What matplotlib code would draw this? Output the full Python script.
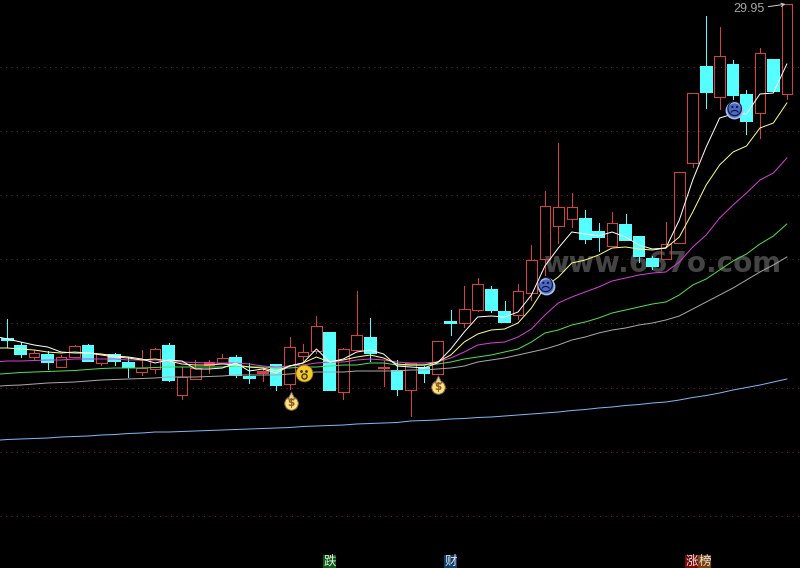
import matplotlib
matplotlib.use("Agg")
import matplotlib.pyplot as plt

plt.rcParams['font.family'] = ['Noto Sans CJK SC', 'DejaVu Sans']

top =   [339,346,353,355,357,346,346,354,355,363,368,349,346,377,368,362,358,358,376.5,371,365,347,352,326,333,349,335,338,367,371,363,368,341,321.5,309,284,290,312,291,260,206,207,207,219,232,223,225,237,259,244,172,93,67,56,65,95,53,60,4]
bot =   [340,354,357,362,367,357,361,363,361,367,372,369,380,395,379,365,363,375,377.5,373,385,384,356,351,390,392,350,353,368,389,390,373,374,322.5,323,310,310,322,315,293,259,226,219,239,237,246,240,256,266,259,243,163,92,97,95,121,113,91,94]
high =  [319,342,350,351,355,345,344,354,353,357,350,348,343,367,360,360,354,355,363,367,365,337,344,316,333,348,291,318,361,360,363,366,341,310,286,278,286,301,284,245,191,143,193,210,223,212,214,236,256,222,172,93,16,27,60,90,48,59,4]
low =   [347,357,359,369,367,357,361,365,365,377,375,373,381,399,379,373,363,377,383,381,390,389,362,353,390,399,350,361,386,395,416,382,374,335,327,311,312,322,319,300,275,243,227,243,251,246,240,262,269,259,243,167,108,109,99,134,138,91,99]
is_up = [0,0,1,0,1,1,0,1,0,0,1,1,0,1,1,1,1,0,0,1,0,1,1,1,0,1,1,0,1,0,1,0,1,0,1,1,0,0,1,1,1,1,1,0,0,1,0,0,0,1,1,1,0,1,0,0,1,0,1]

# Average lines; the first value lies one session left of the visible window
ma_white =  [336,339,342,345,347,352,353,353,354,356,357,359,363,360,361,369,369,368,363,371,369,373,366,363,349,362,359,352,350,354,366,367,368,363,349,332,317,316,317,312,295,266,248,232,234,236,232,237,245,249,248,220,180,147,118,114,114,94,93,64]
ma_yellow = [348,348,349,350,352,353,352,353,355,357,358,360,359,361,364,365,365,364,365,367,368,371,366,363,357,362,360,357,355,358,364,365,365,362,355,342,334,330,329,323,308,287,277,263,260,255,248,247,249,250,248,237,212,185,165,152,146,128,123,103]
ma_magenta =[362,361,361,360.5,360,360,359,359,359,359,360,360,360,361,362,362.5,363,363,363,364,366,367,366,365,363,362,362,360,359,360,362,363,363,362,358,352,345,343,342,337,329,315,303,297,292,287,281,278,275,273,272,262,247,235,218,205,193,180,173,158]
ma_green =  [374.5,373.5,372.5,372,371.5,371,370.5,369.5,368.5,368,368,368,367.5,367,367,367,367,367,366,367,367,368,368,367,367,366,365,365,363,363,365,365,365,364,362,359,357,355,352,349,342,333,330,325,322,318,313,310,307,304,302,295,285,279,270,261,254,244,236,224]
ma_grey =   [386.5,385.5,385,384,383,382.5,382,381,380,379.5,379,378.5,378,377,377,377,376.5,376,375,375,375,375,374,373,372,372,372,371,371,371,371,370,370,369,368,366,362,360,358,355,352,349,345,340,337,333,330,328,325,323,320,316,309,302,295,288,280,272,265,257]
ma_blue =   [440.5,439.5,439,438.5,438,437,436.5,436,435,434.5,433.5,433,432,432,431.5,431,430.5,430,429.5,429,428.5,428,427.5,426.5,426,425.5,425,424,423.5,423,422.5,421,420.5,420,419,418.5,417.5,417,416,415,414,413,412,410.5,409.5,408,407,405.5,404.5,403,402,400,397.5,395.5,393,390,387.5,385,382,379]

bag_idx, bag_val = [21.1, 32.05], [400.5, 384.5]
smile_idx, smile_val = [22.05], [373]
sad_idx, sad_val = [40.05, 54.1], [286, 110]

grid_levels = [67, 131, 195, 259, 323, 388, 452, 516]
last_label = "29.95"
wm_text = "www.667o.com"

RED, CYAN = "#d64040", "#55ffff"
n = len(top)
xs = list(range(n))
xs_ma = list(range(-1, n))

fig = plt.figure(figsize=(8, 5.68), dpi=100, facecolor="black")
ax = fig.add_axes([0, 0, 1, 1], facecolor="black")
step = 13.44
ax.set_xlim(-7.3 / step, (800 - 7.3) / step)
ax.set_ylim(568, 0)
ax.axis("off")

ax.hlines(grid_levels, *ax.get_xlim(), colors="#8c2020", linewidth=0.72,
          linestyles=(0, (1, 4.5)), zorder=1)

ax.text(48.75, 264, wm_text, color="#444444", fontsize=20, fontweight="bold",
        family="DejaVu Sans", ha="center", va="center", zorder=1.5)

for i in xs:
    h = bot[i] - top[i]
    if is_up[i]:
        ax.vlines(i, high[i], top[i], colors=RED, linewidth=0.72, zorder=2, antialiased=False)
        ax.vlines(i, bot[i], low[i], colors=RED, linewidth=0.72, zorder=2, antialiased=False)
        face = RED if h <= 3 else "none"
        ax.bar(i, h, bottom=top[i], width=0.78, facecolor=face, edgecolor=RED,
               linewidth=0.72, zorder=3, antialiased=False)
    else:
        ax.vlines(i, high[i], low[i], colors=CYAN, linewidth=0.72, zorder=2, antialiased=False)
        ax.bar(i, h, bottom=top[i], width=0.8, facecolor=CYAN, edgecolor=CYAN,
               linewidth=0.2, zorder=3, antialiased=False)

ax.plot(xs_ma, ma_grey, color="#a8a8a8", lw=0.72, zorder=5)
ax.plot(xs_ma, ma_green, color="#50e050", lw=0.72, zorder=5)
ax.plot(xs_ma, ma_magenta, color="#d840d8", lw=0.72, zorder=5)
ax.plot(xs_ma, ma_yellow, color="#ffff80", lw=0.72, zorder=6)
ax.plot(xs_ma, ma_white, color="#ffffff", lw=0.72, zorder=7)
ax.plot(xs_ma, ma_blue, color="#80b8f0", lw=0.72, zorder=5)

# Money bags
ax.scatter(bag_idx, [v + 2 for v in bag_val], s=95, c="#f8e088", edgecolors="#8a6420",
           linewidths=0.7, zorder=8)
ax.scatter(bag_idx, [v - 5.5 for v in bag_val], s=26, marker="^", c="#f0d070",
           edgecolors="#6a5a70", linewidths=0.6, zorder=8)
for i, v in zip(bag_idx, bag_val):
    ax.text(i, v + 2, "$", color="#8a5a10", fontsize=7.5, fontweight="bold",
            family="DejaVu Sans", ha="center", va="center", zorder=9)

# Surprised face
ax.scatter(smile_idx, smile_val, s=150, c="#f0cc28", edgecolors="#806000", linewidths=0.5, zorder=8)
for dx in (-0.2, 0.2):
    ax.scatter([i + dx for i in smile_idx], [v - 2.5 for v in smile_val], s=4, c="#402800",
               linewidths=0, zorder=9)
ax.scatter(smile_idx, [v + 2.5 for v in smile_val], s=14, facecolors="#e8b820", edgecolors="#402800",
           linewidths=0.9, zorder=9)

# Sad faces
ax.scatter(sad_idx, sad_val, s=165, c="#a8c0f0", linewidths=0, zorder=8)
ax.scatter(sad_idx, sad_val, s=105, c="#4c68c0", linewidths=0, zorder=8)
for i, v in zip(sad_idx, sad_val):
    ax.text(i, v, "☹", color="#0c1438", fontsize=12, fontweight="bold", family="DejaVu Sans",
            ha="center", va="center", zorder=9)

# Latest-value label with leader
ax.annotate(last_label, xy=(n - 1, top[-1]), xytext=(55.15, 9.5), color="#a8a8a8", fontsize=9,
            family="Liberation Sans", ha="center", va="center", zorder=10,
            arrowprops=dict(arrowstyle="->", color="#d0d0d0", lw=0.7, mutation_scale=6,
                            shrinkA=1, shrinkB=1))

# Bottom tags
for xpos, s, bg in [(23.97, "跌", "#0a5a10"), (32.98, "财", "#0c3c68"),
                    (50.95, "涨", "#780808"), (51.87, "榜", "#7a4008")]:
    ax.text(xpos, 561.5, s, color="#e8e8e8", fontsize=9, ha="center", va="center", zorder=10,
            bbox=dict(facecolor=bg, edgecolor="none", pad=0.4))

fig.savefig("out.png", dpi=100, facecolor="black")
